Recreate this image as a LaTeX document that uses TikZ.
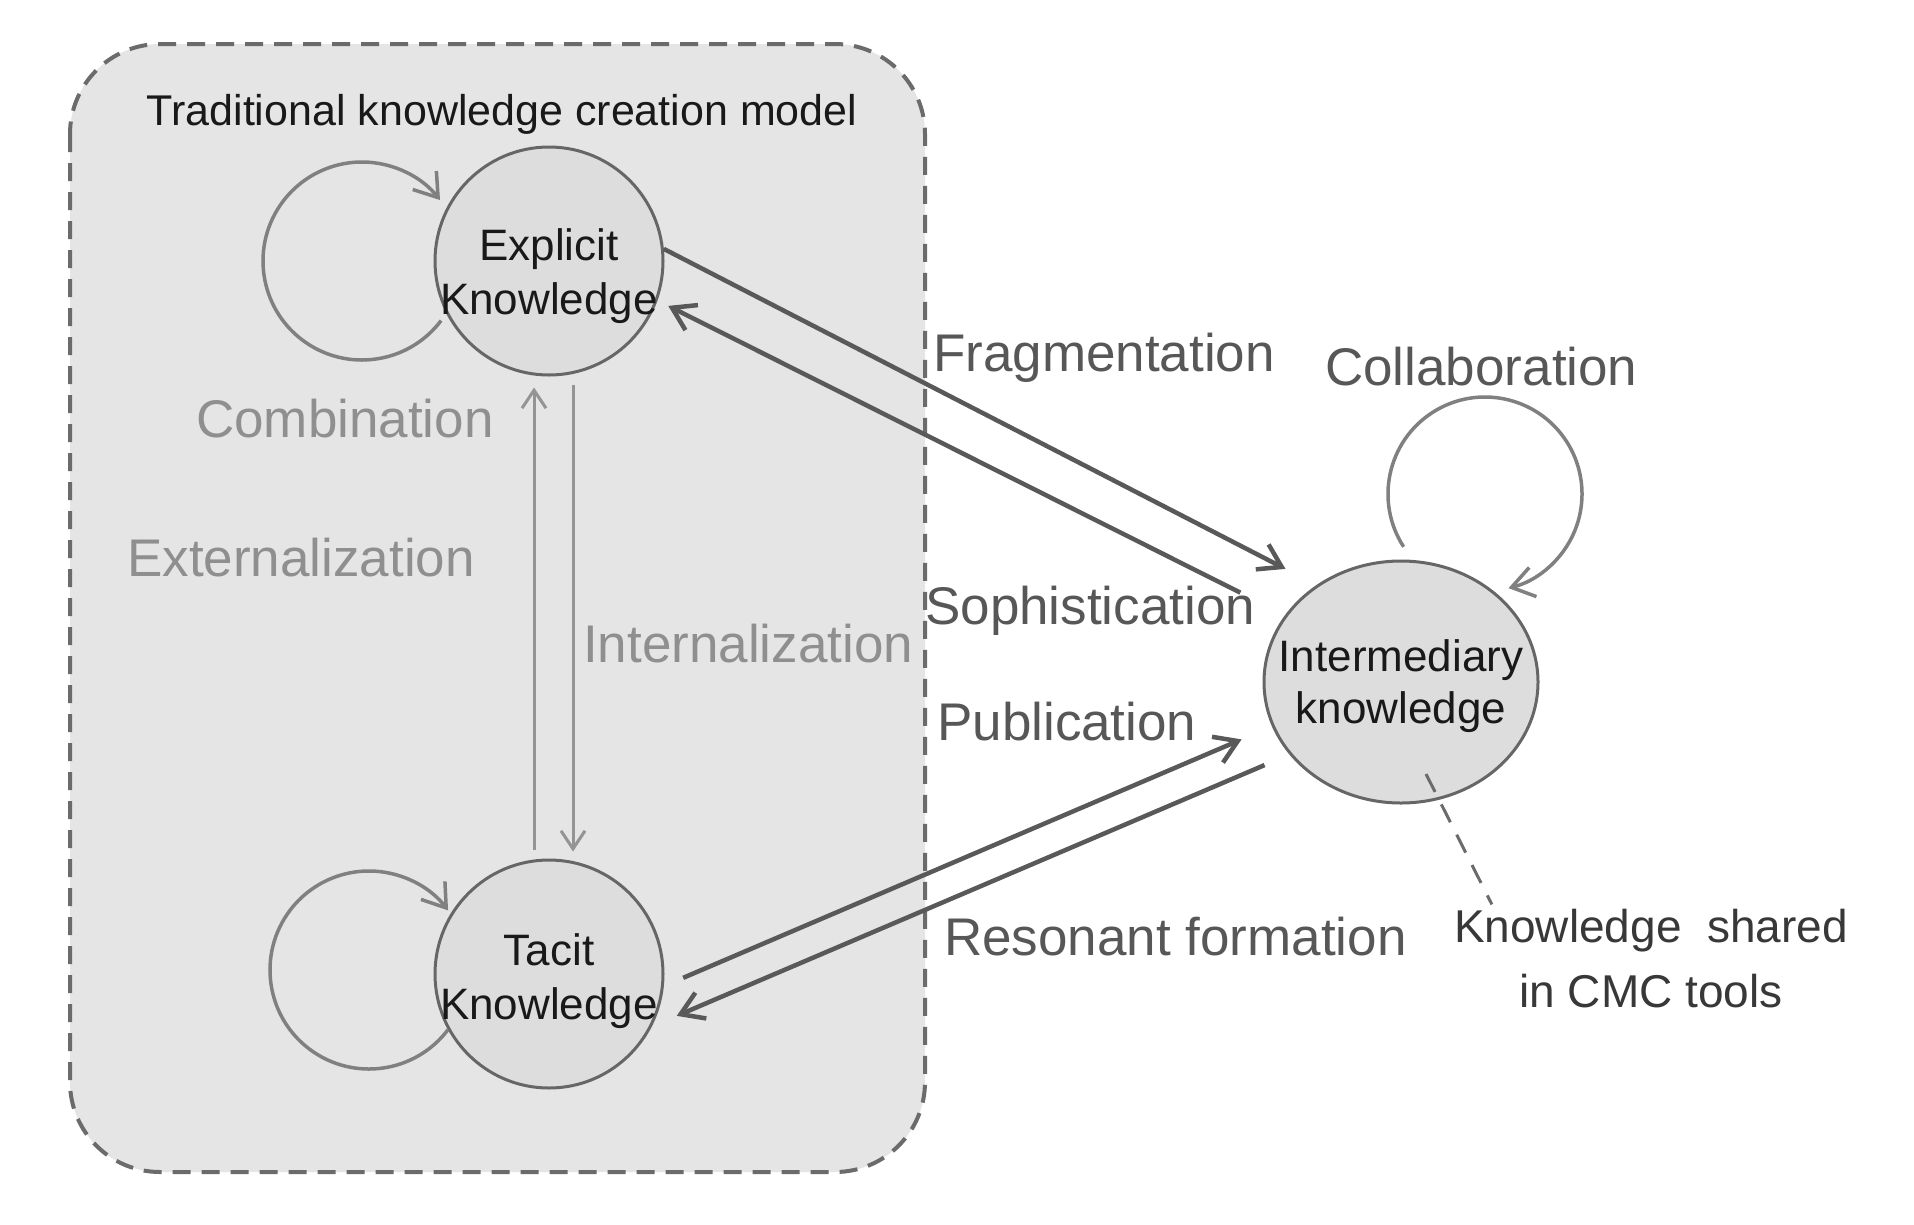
\documentclass[tikz,border=0pt]{standalone}
\usepackage{fontspec}
\setmainfont{Liberation Sans}
\usetikzlibrary{calc,shapes.geometric,arrows.meta}
\definecolor{boxfill}{gray}{0.90}
\definecolor{boxline}{gray}{0.42}
\definecolor{nodefill}{gray}{0.865}
\definecolor{ringgray}{gray}{0.40}
\definecolor{loopgray}{gray}{0.50}
\definecolor{vertgray}{gray}{0.58}
\definecolor{crossgray}{gray}{0.35}
\definecolor{softlabel}{gray}{0.56}
\definecolor{darklabel}{gray}{0.34}
\tikzset{
	modelbox/.style={draw=boxline, fill=boxfill, line width=4pt, dash pattern=on 18pt off 11pt, rounded corners=90pt},
	know/.style={circle, draw=ringgray, fill=nodefill, line width=3pt, minimum size=228pt, inner sep=0pt},
	knowtext/.style={align=center, inner sep=0pt, text=black!90, font=\fontsize{44}{54}\selectfont},
	titletext/.style={anchor=base, inner sep=0pt, text=black!90, font=\fontsize{43}{50}\selectfont},
	softtext/.style={anchor=base west, inner sep=0pt, text=softlabel, font=\fontsize{53}{60}\selectfont},
	darktext/.style={anchor=base west, inner sep=0pt, text=darklabel, font=\fontsize{53}{60}\selectfont},
	loopline/.style={draw=loopgray, line width=3.5pt, -{Straight Barb[length=22pt, width=30pt, line width=3.5pt]}},
	vertline/.style={draw=vertgray, line width=3pt, -{Straight Barb[length=18pt, width=24pt, line width=3pt]}},
	crossline/.style={draw=crossgray, line width=4.5pt, -{Straight Barb[length=22pt, width=28pt, line width=4.5pt]}},
	tieline/.style={draw=boxline, line width=3pt, dash pattern=on 20pt off 14pt}
}

\begin{document}
\begin{tikzpicture}[x=1pt,y=-1pt]
		%%%%% FRAME %%%%%
		\useasboundingbox[fill=white] (0,0) rectangle (1914,1224);
		
		\draw[modelbox] (70,44) rectangle (925,1172);
		\node[titletext] (title) at (502,125) {Traditional knowledge creation model};
		
		%%%%% KNOWLEDGE %%%%%
		\node[know] (explicit) at (549,261) {};
		\node[know] (tacit) at (549,974) {};
		\node[know, ellipse, minimum width=274pt, minimum height=242pt] (inter) at (1401,682) {};
		
		\node[knowtext] (explicitlbl) at ([yshift=-15pt]explicit.center) {Explicit\\Knowledge};
		\node[knowtext] (tacitlbl) at ([yshift=-7pt]tacit.center) {Tacit\\Knowledge};
		\node[knowtext, font=\fontsize{44}{52}\selectfont] (interlbl) at ([yshift=-4pt]inter.center) {Intermediary\\knowledge};
		
		%%%%% LOOPS %%%%%
		\draw[loopline] ($(explicit)+(-187,0)+(37:99)$) arc (37:322:99);
		\draw[loopline] ($(tacit)+(-180,-4)+(37:99)$) arc (37:323:99);
		\draw[loopline] ($(inter)+(84,-188)+(147:97)$) arc (147:436:97);
		
		%%%%% INSIDE THE MODEL %%%%%
		\draw[vertline, shorten <=9pt, shorten >=11pt] ([xshift=-15pt]tacit.north) -- ([xshift=-15pt]explicit.south);
		\draw[vertline, shorten <=8pt, shorten >=7pt] ([xshift=24pt]explicit.south) -- ([xshift=24pt]tacit.north);
		
		\node[softtext] (combination) at (196,437) {Combination};
		\node[softtext] (externalization) at (127,576) {Externalization};
		\node[softtext] (internalization) at (583,662) {Internalization};
		
		%%%%% ACROSS %%%%%
		\draw[crossline, shorten >=35pt] (explicit.6.5) -- (inter.131);
		\draw[crossline, shorten <=50pt, shorten >=12pt] (inter.150) -- (explicit.-20);
		\draw[crossline, shorten <=21pt, shorten >=33pt] (tacit.-6) -- (inter.199);
		\draw[crossline, shorten <=27pt, shorten >=27pt] (inter.213) -- (tacit.-27.5);
		
		\node[darktext] (fragmentation) at (933,371) {Fragmentation};
		\node[darktext] (collaboration) at (1325,385) {Collaboration};
		\node[darktext] (sophistication) at (925,624) {Sophistication};
		\node[darktext] (publication) at (937,740) {Publication};
		\node[darktext] (resonant) at (944,955) {Resonant formation};
		
		%%%%% CMC %%%%%
		\node[align=center, inner sep=0pt, text=black!78, font=\fontsize{46}{65}\selectfont] (cmc) at (1651,959) {Knowledge\ \ shared\\in CMC\ tools};
		\draw[tieline] ($(inter)+(25,92)$) -- ($(cmc.north west)+(38,-5)$);
		
		%%%%% END %%%%%
	\end{tikzpicture}
\end{document}
